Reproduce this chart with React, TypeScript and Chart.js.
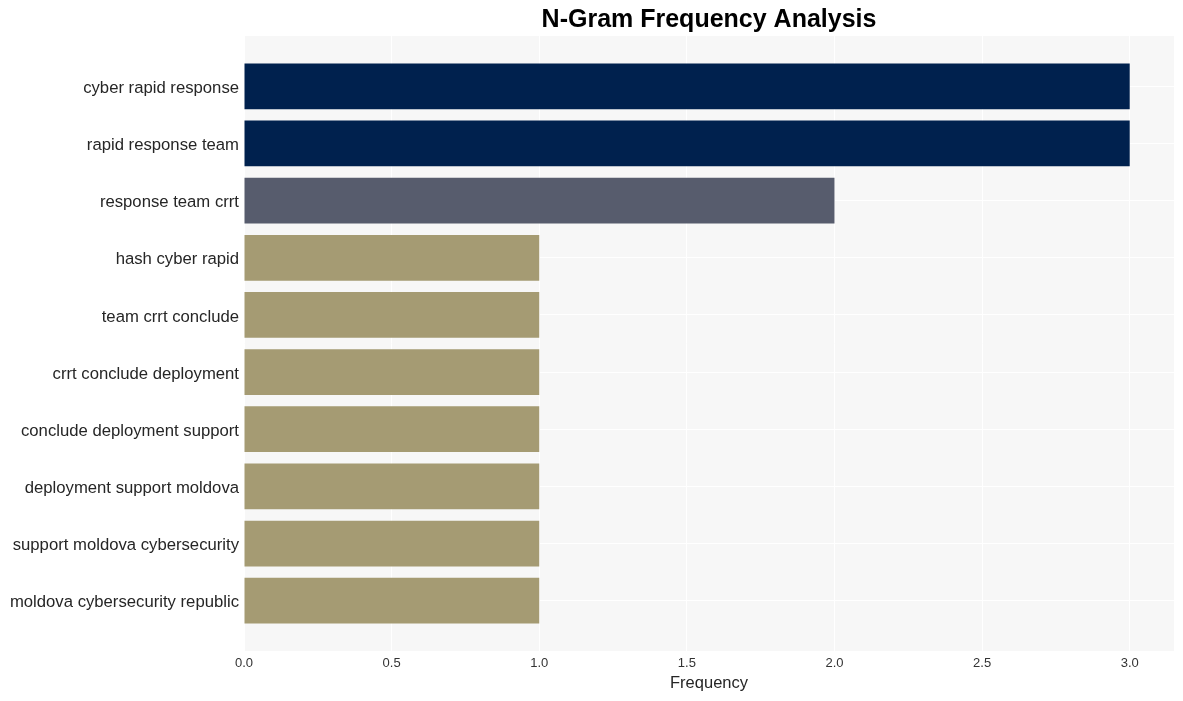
import React, { useEffect, useRef } from "react";
import { Chart, registerables } from "chart.js";

Chart.register(...registerables);

const categories = [
  "cyber rapid response",
  "rapid response team",
  "response team crrt",
  "hash cyber rapid",
  "team crrt conclude",
  "crrt conclude deployment",
  "conclude deployment support",
  "deployment support moldova",
  "support moldova cybersecurity",
  "moldova cybersecurity republic",
];
const frequencies = [3, 3, 2, 1, 1, 1, 1, 1, 1, 1];
const barColors = [
  "#00214e",
  "#00214e",
  "#575c6d",
  "#a59b73",
  "#a59b73",
  "#a59b73",
  "#a59b73",
  "#a59b73",
  "#a59b73",
  "#a59b73",
];
const xTicks = [0, 0.5, 1, 1.5, 2, 2.5, 3];

const FONT = "'Liberation Sans', Arial, sans-serif";

const plotBg = {
  id: "plotBg",
  beforeDraw(chart: any) {
    const { ctx, chartArea } = chart;
    ctx.save();
    ctx.fillStyle = "#f7f7f7";
    ctx.fillRect(chartArea.left, chartArea.top, chartArea.right - chartArea.left, chartArea.bottom - chartArea.top);
    ctx.restore();
  },
};

export default function App() {
  const ref = useRef<HTMLCanvasElement>(null);
  useEffect(() => {
    if (!ref.current) return;
    const chart = new Chart(ref.current, {
      type: "bar",
      data: {
        datasets: [
          {
            data: frequencies.map((v, i) => ({ x: v, y: i })) as any,
            backgroundColor: barColors,
            borderWidth: 0,
            barPercentage: 0.8,
            categoryPercentage: 1,
          },
        ],
      },
      plugins: [plotBg],
      options: {
        indexAxis: "y",
        animation: false,
        responsive: true,
        maintainAspectRatio: false,
        layout: { padding: { left: 0, right: 9, top: 0, bottom: 0 } },
        plugins: {
          legend: { display: false },
          tooltip: { enabled: false },
          title: {
            display: true,
            text: "N-Gram Frequency Analysis",
            fullSize: false,
            color: "#000000",
            font: { family: FONT, size: 25, weight: "bold" },
            padding: { top: 5, bottom: 1 },
          },
        },
        scales: {
          x: {
            type: "linear",
            min: 0,
            max: 3.15,
            grid: { color: "#ffffff", lineWidth: 1, drawTicks: false },
            border: { display: false },
            afterBuildTicks: (scale: any) => {
              scale.ticks = xTicks.map((v) => ({ value: v }));
            },
            afterFit: (scale: any) => {
              scale.height = 50;
            },
            ticks: {
              padding: 5,
              color: "#333333",
              font: { family: FONT, size: 13 },
              callback: (v: any) => Number(v).toFixed(1),
            },
            title: {
              display: true,
              text: "Frequency",
              color: "#262626",
              font: { family: FONT, size: 16.5 },
              padding: { top: 0, bottom: 8 },
            },
          },
          y: {
            type: "linear",
            reverse: true,
            offset: false,
            min: -0.88,
            max: 9.88,
            grid: { color: "#ffffff", lineWidth: 1, drawTicks: false, offset: false },
            border: { display: false },
            afterBuildTicks: (scale: any) => {
              scale.ticks = categories.map((_, i) => ({ value: i }));
            },
            afterFit: (scale: any) => {
              scale.width = 244;
            },
            ticks: {
              autoSkip: false,
              padding: 5,
              labelOffset: 2,
              color: "#262626",
              font: { family: FONT, size: 16.7 },
              callback: (v: any) => categories[Math.round(Number(v))] ?? "",
            },
          },
        },
      },
    });
    return () => chart.destroy();
  }, []);
  return (
    <div style={{ position: "fixed", left: 0, top: 0, width: 1183, height: 701, background: "#ffffff" }}>
      <canvas ref={ref} />
    </div>
  );
}
